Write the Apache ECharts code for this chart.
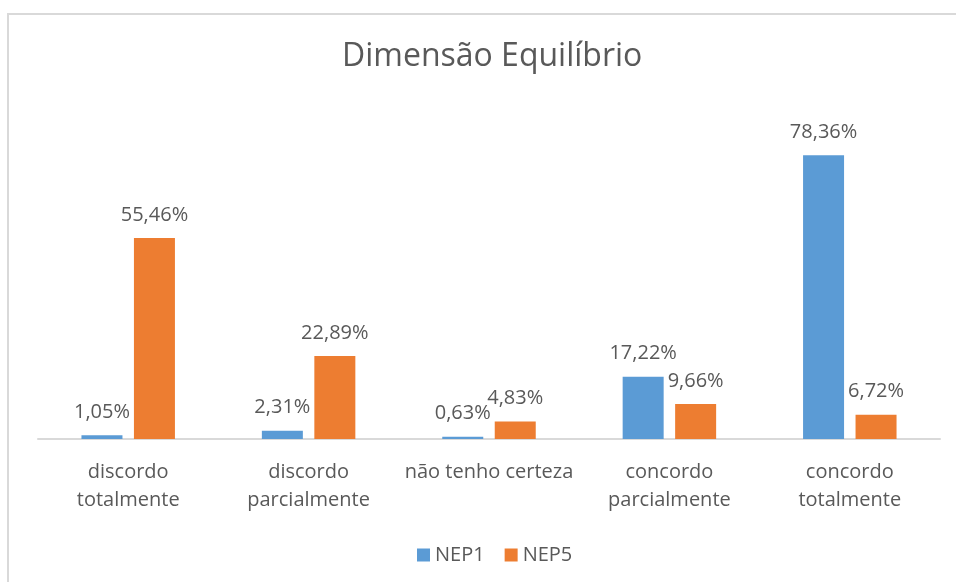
<!DOCTYPE html>
<html>
<head>
<meta charset="utf-8">
<script src="https://cdn.jsdelivr.net/npm/echarts@6/dist/echarts.min.js"></script>
<style>
  html, body { margin: 0; padding: 0; background: #fff; }
  #chart { width: 956px; height: 582px; }
</style>
</head>
<body>
<div id="chart"></div>
<script>
// categories and series values (percentages)
var categories = ['discordo\ntotalmente', 'discordo\nparcialmente', 'não tenho certeza', 'concordo\nparcialmente', 'concordo\ntotalmente']
var nep1 = [1.05, 2.31, 0.63, 17.22, 78.36]
var nep5 = [55.46, 22.89, 4.83, 9.66, 6.72]

var fontFam = '"Open Sans", "Noto Sans", sans-serif'
var textColor = '#595959'

function fmt(p) {
    return p.value.toFixed(2).replace('.', ',') + '%'
}

var chart = echarts.init(document.getElementById('chart'))
chart.setOption({
    animation: false,
    backgroundColor: '#fff',
    graphic: [{
        type: 'rect',
        shape: { x: 8, y: 14, width: 1000, height: 700 },
        style: { fill: 'none', stroke: '#d9d9d9', lineWidth: 2 },
        silent: true
    }],
    title: {
        text: 'Dimensão Equilíbrio',
        left: 337,
        top: 36,
        textStyle: { fontFamily: fontFam, fontSize: 32, fontWeight: 'normal', color: textColor }
    },
    legend: {
        bottom: 12,
        left: 412,
        itemWidth: 13,
        itemHeight: 13,
        itemGap: 20,
        icon: 'rect',
        textStyle: { fontFamily: fontFam, fontSize: 20, color: textColor },
        data: ['NEP1', 'NEP5']
    },
    grid: { left: 38, right: 16, top: 113, bottom: 143 },
    xAxis: {
        type: 'category',
        data: categories,
        axisTick: { show: false },
        axisLine: { lineStyle: { color: '#d9d9d9', width: 2 } },
        axisLabel: { fontFamily: fontFam, fontSize: 20, color: textColor, margin: 19, lineHeight: 28, interval: 0 }
    },
    yAxis: {
        type: 'value',
        min: 0,
        max: 90,
        show: false,
        splitLine: { show: false }
    },
    series: [{
        name: 'NEP1',
        type: 'bar',
        data: nep1,
        barWidth: 41,
        barGap: '28%',
        itemStyle: { color: '#5b9bd5' },
        label: { show: true, position: 'top', distance: 13, formatter: fmt, fontFamily: fontFam, fontSize: 20, color: textColor }
    }, {
        name: 'NEP5',
        type: 'bar',
        data: nep5,
        barWidth: 41,
        itemStyle: { color: '#ed7d31' },
        label: { show: true, position: 'top', distance: 13, formatter: fmt, fontFamily: fontFam, fontSize: 20, color: textColor }
    }]
})
</script>
</body>
</html>
